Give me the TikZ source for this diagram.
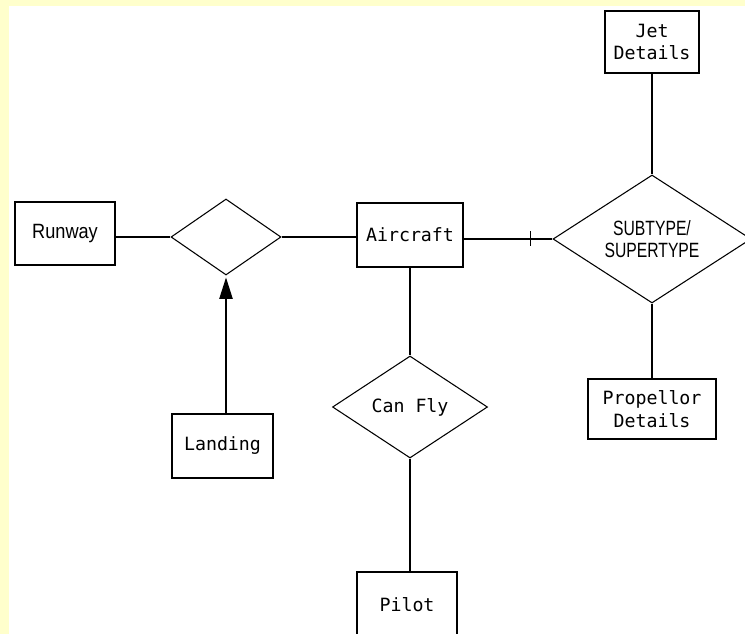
\documentclass[tikz,border=0pt]{standalone}
\usepackage{fontspec}
\newfontfamily\erfont{DejaVu Sans Mono}
\newfontfamily\erhelv[FakeStretch=0.88]{Liberation Sans}
\newfontfamily\erhelvnarrow[FakeStretch=0.76]{Liberation Sans}
\usetikzlibrary{shapes.geometric, arrows.meta, calc}
\definecolor{paleyellow}{HTML}{FFFFCC}

\tikzset{
  entity/.style={draw, line width=0.8pt, inner sep=0pt, align=center,
    font=\erfont\fontsize{13.7pt}{17pt}\selectfont},
  relation/.style={draw, diamond, aspect=1.5, inner sep=0pt, line width=0.8pt,
    align=center, font=\erfont\fontsize{13.7pt}{17pt}\selectfont},
  link/.style={line width=0.8pt},
}

\begin{document}
\begin{tikzpicture}[x=0.75pt, y=-0.75pt]
  \clip (0,0) rectangle (745,634);
  \fill[paleyellow] (0,0) rectangle (745,634);
  \fill[white] (8.5,6) rectangle (745,634);

  \node[entity, minimum width=75pt, minimum height=47.25pt,
        font=\erhelv\fontsize{15.5pt}{16pt}\selectfont] at (65,233.5) (runway) {Runway};
  \node[relation, minimum width=82.5pt, minimum height=57pt] at (226,237) (ldia) {};
  \node[entity, minimum width=75.75pt, minimum height=48pt] at (222.5,446) (landing) {Landing};

  \node[entity, minimum width=79.5pt, minimum height=48pt] at (410,235) (aircraft) {Aircraft};
  \node[relation, minimum width=116.25pt, minimum height=76.5pt] at (410,407) (canfly) {Can Fly};
  \node[entity, minimum width=75pt, minimum height=49.5pt] at (407,605) (pilot) {Pilot};

  \node[relation, minimum width=148.5pt, minimum height=96pt,
        font=\erhelvnarrow\fontsize{15.5pt}{16pt}\selectfont] at (652,239) (subsup) {SUBTYPE/\\SUPERTYPE};
  \node[entity, minimum width=70.5pt, minimum height=46.5pt] at (652,42) (jet) {Jet\\Details};
  \node[entity, minimum width=96pt, minimum height=45pt] at (652,409) (prop) {Propellor\\Details};

  \draw[link] (ldia.west -| runway.east) -- (ldia.west);
  \draw[link] (ldia.east) -- (ldia.east -| aircraft.west);
  \draw[link, -{Triangle[length=16pt, width=10pt]}, shorten >=1.5pt]
    (ldia.south |- landing.north) -- (ldia.south);

  \draw[link] (subsup.west -| aircraft.east) -- coordinate[pos=0.75] (tick) (subsup.west);
  \draw[link] ($(tick)+(0,-7.5)$) -- ($(tick)+(0,7.5)$);

  \draw[link] (aircraft.south) -- (canfly.north);
  \draw[link] (canfly.south) -- (canfly.south |- pilot.north);

  \draw[link] (jet.south) -- (subsup.north);
  \draw[link] (subsup.south) -- (prop.north);
\end{tikzpicture}
\end{document}
